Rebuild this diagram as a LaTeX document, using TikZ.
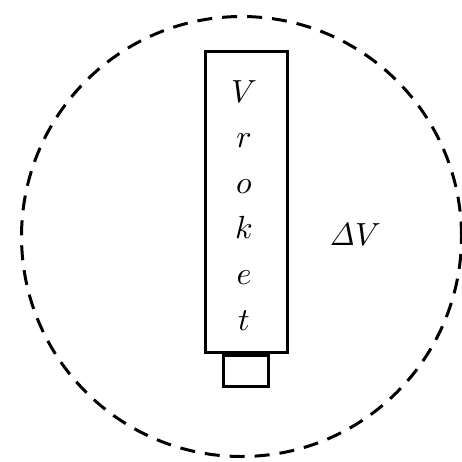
\documentclass[tikz,border=0pt]{standalone}
\usetikzlibrary{positioning}
\newcommand{\rktxt}[1]{\scalebox{3.2}{$#1$}}

\begin{document}
\begin{tikzpicture}[x=1pt, y=-1pt,
  vol/.style={draw, circle, line width=3pt, dash pattern=on 15pt off 10pt, minimum size=440pt, inner sep=0pt},
  part/.style={draw, line width=3pt, inner sep=0pt},
  lett/.style={inner sep=0pt}]
  \useasboundingbox (0,0) rectangle (462,461);
  \node[vol] (region) at (241.5,236.5) {};
  \node[part, minimum width=82pt, minimum height=301pt] (body) at (246,201.5) {};
  \node[part, minimum width=45pt, minimum height=31pt, below=0pt of body.south, anchor=north] (nozzle) {};
  \foreach \l [count=\i from 0] in {V,r,o,k,e,t}
    \node[lett, anchor=base] (l\i) at (244,{102+45.6*\i}) {\rktxt{\l}};
  \node[lett, anchor=base] (dv) at (355,245) {\rktxt{\mathit{\Delta}V}};
\end{tikzpicture}
\end{document}
